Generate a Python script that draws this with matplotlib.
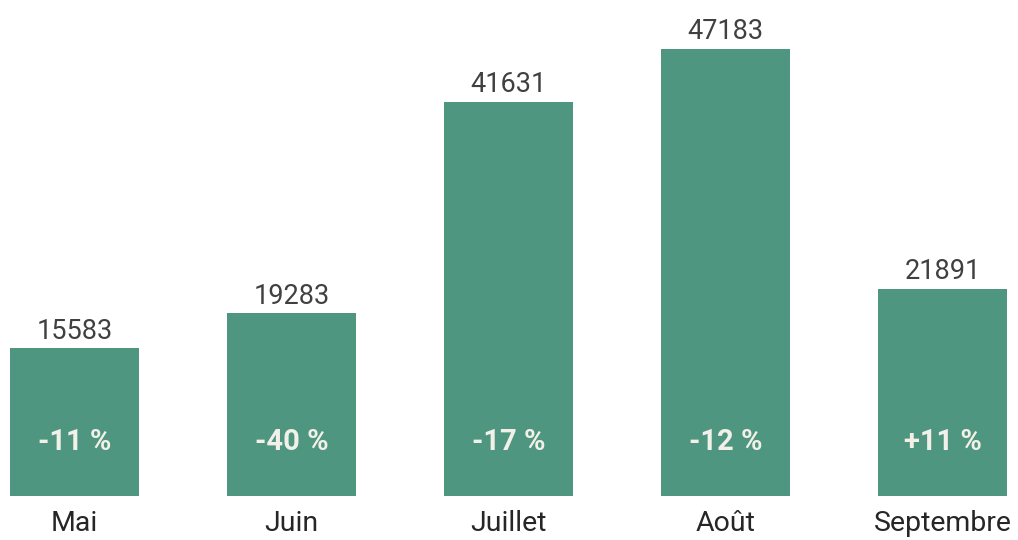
import matplotlib
matplotlib.use("Agg")
import matplotlib.pyplot as plt

months = ["Mai", "Juin", "Juillet", "Août", "Septembre"]
visits = [15583, 19283, 41631, 47183, 21891]
changes = ["-11 %", "-40 %", "-17 %", "-12 %", "+11 %"]

bar_color = "#4e967f"
text_color = "#404040"
pct_color = "#f2f0e8"

plt.rcParams['font.family'] = ['Roboto', 'DejaVu Sans']

fig = plt.figure(figsize=(10.18, 5.4), dpi=100)
ax = fig.add_axes([0, 44 / 540, 1, 496 / 540])

x = list(range(len(months)))
bars = ax.bar(x, visits, width=0.594, color=bar_color)

# scale so the tallest bar stops ~49px under the top edge
ax.set_xlim(-74.5 / 217, (1018 - 74.5) / 217)
ax.set_ylim(0, 47183 * 496 / 447)

for xi, v, c in zip(x, visits, changes):
    ax.annotate(str(v), xy=(xi, v), xytext=(0, 7), textcoords='offset points',
                ha='center', va='baseline', fontsize=19.5, color=text_color)
    ax.annotate(c, xy=(xi, 0), xytext=(0, 39), textcoords='offset points',
                ha='center', va='center', fontsize=21, fontweight='bold',
                color=pct_color)

ax.set_xticks(x)
ax.set_xticklabels(months, fontsize=20.5, color="#262626")
ax.tick_params(axis='x', length=0, pad=10)
ax.set_yticks([])
for s in ax.spines.values():
    s.set_visible(False)

fig.savefig("out.png", dpi=100)
